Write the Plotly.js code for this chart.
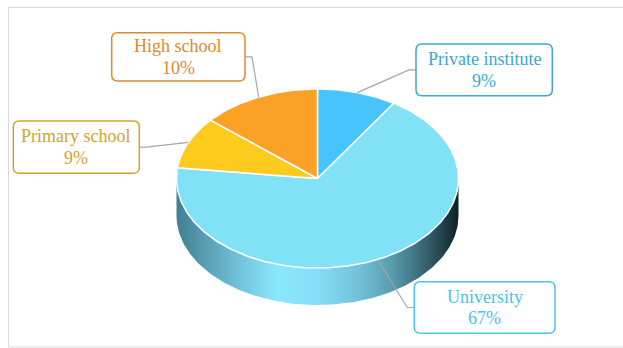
<!DOCTYPE html>
<html>
<head>
<meta charset="utf-8">
<script src="https://cdn.plot.ly/plotly-3.0.1.min.js"></script>
<style>
  html, body { margin: 0; padding: 0; background: #ffffff; }
  #chart { width: 623px; height: 348px; }
</style>
</head>
<body>
<div id="chart"></div>
<script>
// ---- data ----
const categories = ['Private institute', 'University', 'Primary school', 'High school'];
const shares = [9.1, 67.8, 9.4, 13.7];            // slice sizes as drawn
const pctLabels = ['9%', '67%', '9%', '10%'];      // data-label text as printed
const sliceColors = ['#47C4FC', '#80E1F7', '#FDCA1E', '#FBA126'];
const labelColors = ['#3AA8D8', '#4CC3EA', '#CFA42E', '#DD8A2E'];

// ---- layout geometry (positions only) ----
const W = 623, H = 348;
const CX = 317.5, CY = 178.5, RX = 141, RY = 89.5, DEPTH = 37;
const boxes = [
  [416, 44, 552.3, 95.7],
  [414.3, 281.7, 555, 333.3],
  [13.3, 121, 139.3, 173.3],
  [111.7, 32.7, 245, 81]
];

function pt(deg, dy) {
  const r = deg * Math.PI / 180;
  return [CX + RX * Math.cos(r), CY - RY * Math.sin(r) + (dy || 0)];
}

const traces = [];

// side (extrusion) of the front half
const sx = [], sy = [];
for (let t = 180; t <= 360; t += 1) { const p = pt(t); sx.push(p[0]); sy.push(p[1]); }
for (let t = 360; t >= 180; t -= 1) { const p = pt(t, DEPTH); sx.push(p[0]); sy.push(p[1]); }
traces.push({
  type: 'scatter', mode: 'lines', x: sx, y: sy, fill: 'toself',
  line: { width: 0, color: 'rgba(0,0,0,0)' },
  fillgradient: {
    type: 'horizontal',
    colorscale: [
      [0, '#3F7F92'], [0.08, '#5597AB'], [0.2, '#6CBCD4'], [0.36, '#8BE8FF'],
      [0.5, '#84DDF6'], [0.64, '#73C3DA'], [0.76, '#5A9EB0'], [0.86, '#3E6E7C'],
      [0.94, '#25444D'], [1, '#0E1F24']
    ]
  },
  hoverinfo: 'skip', showlegend: false
});

// top face slices
const total = shares.reduce((a, b) => a + b, 0);
let start = 90;
const mids = [];
shares.forEach((v, i) => {
  const span = v / total * 360;
  const end = start - span;
  const xs = [CX], ys = [CY];
  const n = Math.max(2, Math.ceil(span));
  for (let k = 0; k <= n; k++) {
    const p = pt(start - span * k / n);
    xs.push(p[0]); ys.push(p[1]);
  }
  xs.push(CX); ys.push(CY);
  traces.push({
    type: 'scatter', mode: 'lines', x: xs, y: ys, fill: 'toself',
    fillcolor: sliceColors[i], line: { color: '#FFFFFF', width: 1.5 },
    name: categories[i], hoverinfo: 'skip', showlegend: false
  });
  mids.push((start + end) / 2);
  start = end;
});

// shapes: frame, leader lines, rounded label boxes
const shapes = [{
  type: 'rect', xref: 'x', yref: 'y', x0: 8.5, y0: 7.5, x1: 700, y1: 347,
  line: { color: '#D9D9D9', width: 1 }, fillcolor: 'rgba(0,0,0,0)', layer: 'below'
}];
const annotations = [];
const FONT_FAMILY = 'Times New Roman, Liberation Serif, DejaVu Serif, serif';
boxes.forEach((b, i) => {
  const [x0, y0, x1, y1] = b;
  const bcx = (x0 + x1) / 2, bcy = (y0 + y1) / 2;
  const leftSide = bcx < CX;
  const ex = leftSide ? x1 : x0;
  const elbow = leftSide ? x1 + 7 : x0 - 7;
  const a = pt(mids[i]);
  shapes.push({
    type: 'path', xref: 'x', yref: 'y', layer: 'above',
    path: `M ${ex},${bcy} L ${elbow},${bcy} L ${a[0]},${a[1]}`,
    line: { color: '#A6A6A6', width: 1.2 }
  });
  const r = 6;
  shapes.push({
    type: 'path', xref: 'x', yref: 'y', layer: 'above',
    path: `M ${x0 + r},${y0} H ${x1 - r} Q ${x1},${y0} ${x1},${y0 + r} V ${y1 - r} Q ${x1},${y1} ${x1 - r},${y1} H ${x0 + r} Q ${x0},${y1} ${x0},${y1 - r} V ${y0 + r} Q ${x0},${y0} ${x0 + r},${y0} Z`,
    fillcolor: '#FFFFFF', line: { color: labelColors[i], width: 1.5 }
  });
  const font = { family: FONT_FAMILY, size: 18, color: labelColors[i] };
  annotations.push({
    x: bcx, y: bcy - 10.8, xref: 'x', yref: 'y', text: categories[i],
    showarrow: false, xanchor: 'center', yanchor: 'middle', font: font
  });
  annotations.push({
    x: bcx, y: bcy + 10.8, xref: 'x', yref: 'y', text: pctLabels[i],
    showarrow: false, xanchor: 'center', yanchor: 'middle', font: font
  });
});

const layout = {
  width: W, height: H,
  margin: { l: 0, r: 0, t: 0, b: 0 },
  paper_bgcolor: '#FFFFFF', plot_bgcolor: '#FFFFFF',
  font: { family: FONT_FAMILY },
  xaxis: { range: [0, W], visible: false, fixedrange: true },
  yaxis: { range: [H, 0], visible: false, fixedrange: true },
  shapes: shapes, annotations: annotations,
  showlegend: false
};

Plotly.newPlot('chart', traces, layout, { displayModeBar: false, staticPlot: true });
</script>
</body>
</html>
